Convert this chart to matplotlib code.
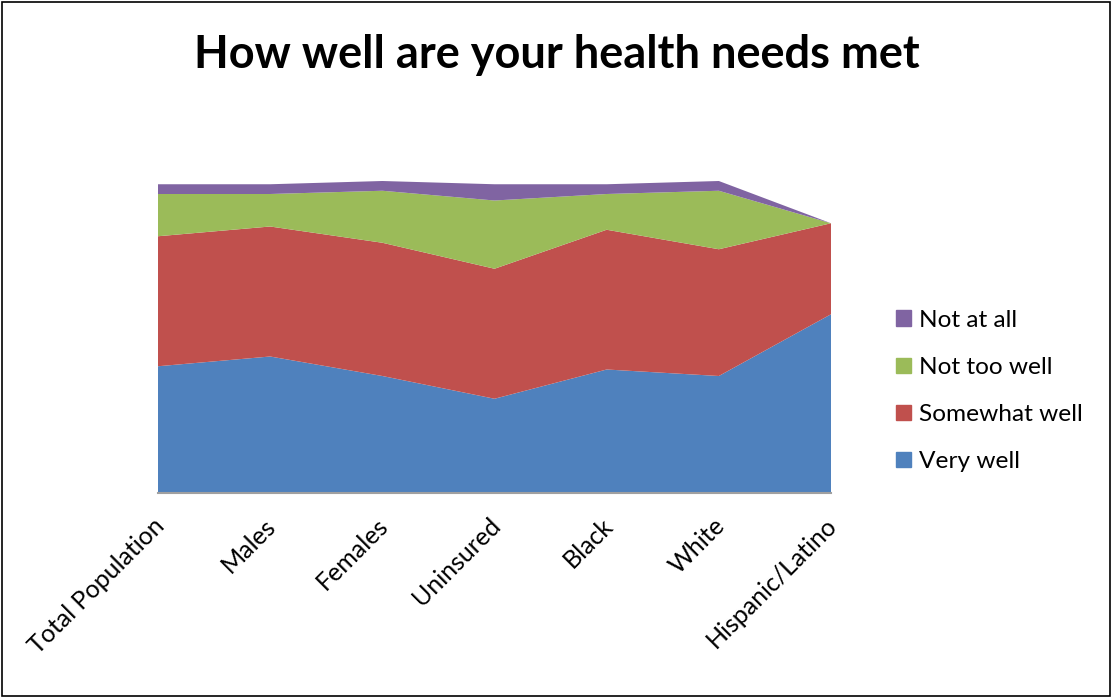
import numpy as np
import matplotlib.pyplot as plt
from matplotlib.patches import Patch
from matplotlib.transforms import ScaledTranslation

# survey shares (%) per group
groups = ['Total Population', 'Males', 'Females', 'Uninsured', 'Black', 'White', 'Hispanic/Latino']
very_well = [39, 42, 36, 29, 38, 36, 55]
somewhat_well = [40, 40, 41, 40, 43, 39, 28]
not_too_well = [13, 10, 16, 21, 11, 18, 0]
not_at_all = [3, 3, 3, 5, 3, 3, 0]

series = ['Very well', 'Somewhat well', 'Not too well', 'Not at all']
colors = ['#4F81BD', '#C0504D', '#9BBB59', '#8064A2']

plt.rcParams['font.family'] = ['Lato', 'DejaVu Sans']

fig = plt.figure(figsize=(11.12, 6.98), dpi=100)
ax = fig.add_axes([158 / 1112, 205 / 698, 673 / 1112, 325 / 698])

x = np.arange(len(groups))
ax.stackplot(x, very_well, somewhat_well, not_too_well, not_at_all,
             colors=colors, linewidth=0)

ax.set_xlim(0, len(groups) - 1)
ax.set_ylim(0, 100)
ax.set_yticks([])
ax.set_xticks(x)
ax.set_xticklabels(groups, rotation=45, ha='right', va='top',
                   rotation_mode='anchor', fontsize=18)
ax.tick_params(axis='x', length=0, pad=15)
# nudge rotated labels a little to the left
shift = ScaledTranslation(-6 / 100, 0, fig.dpi_scale_trans)
for lbl in ax.get_xticklabels():
    lbl.set_transform(lbl.get_transform() + shift)
for side in ['top', 'right', 'left']:
    ax.spines[side].set_visible(False)
ax.spines['bottom'].set_color('#A0A0A0')
ax.spines['bottom'].set_linewidth(1.5)

fig.text(557 / 1112, 1 - 55 / 698, 'How well are your health needs met',
         ha='center', va='center', fontsize=32.5, fontweight='bold')

handles = [Patch(color=c, label=s) for s, c in zip(series, colors)][::-1]
fig.legend(handles=handles, loc='center left', bbox_to_anchor=(874 / 1112, 1 - 391 / 698),
           frameon=False, fontsize=17.6, handlelength=0.6, handleheight=0.6,
           handletextpad=0.35, labelspacing=1.07)

# chart border
fig.patches.append(plt.Rectangle((0.002, 0.003), 0.996, 0.994, transform=fig.transFigure,
                                 fill=False, edgecolor='black', linewidth=1.2))

fig.savefig('out.png', dpi=100)
